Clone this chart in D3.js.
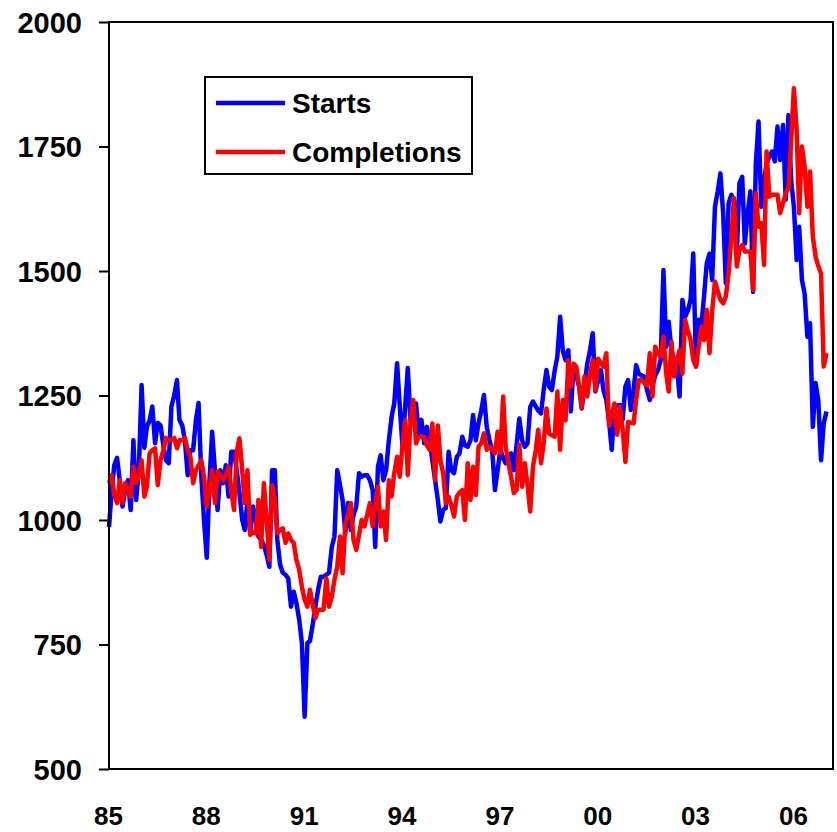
<!DOCTYPE html>
<html lang="en">
<head>
    <meta charset="UTF-8">
    <title>Starts vs Completions</title>
    <script src="https://d3js.org/d3.v7.min.js"></script>
    <style>
        body {
            margin: 0;
            background: white;
        }
        svg {
            display: block;
        }
        .tick-label {
            font-family: "Liberation Sans", Arial, sans-serif;
            font-weight: bold;
            fill: black;
        }
        .legend-label {
            font-family: "Liberation Sans", Arial, sans-serif;
            font-weight: bold;
            font-size: 28px;
        }
    </style>
</head>
<body>
    <script>
        // monthly, starting Jan 1985 (thousands, annual rate)
        const firstYear = 1985;

        const starts = [
            986, 1060, 1110, 1125, 1080, 1027, 1060, 1080, 1020, 1160, 1040, 1100,
            1271, 1145, 1187, 1200, 1228, 1154, 1195, 1190, 1150, 1120, 1114, 1228,
            1250, 1281, 1201, 1190, 1160, 1090, 1140, 1140, 1200, 1235, 1087, 1000,
            924, 1080, 1177, 1100, 1020, 1100, 1074, 1110, 1047, 1137, 1137, 1100,
            1054, 1000, 980, 1040, 974, 1027, 1000, 967, 960, 950, 930, 906,
            1100, 1100, 960, 910, 894, 890, 883, 826, 856, 833, 800, 753,
            605, 753, 757, 790, 826, 860, 886, 886, 890, 894, 946, 967,
            1100, 1070, 1040, 974, 1034, 980, 1010, 1027, 1094, 1087, 1090, 1090,
            1080, 1060, 946, 1107, 1130, 1080, 1100, 1160, 1207, 1235, 1315, 1230,
            1147, 1230, 1305, 1200, 1215, 1234, 1174, 1201, 1154, 1187, 1160, 1120,
            1080, 1040, 997, 1020, 1024, 1137, 1100, 1094, 1127, 1134, 1167, 1150,
            1147, 1160, 1211, 1160, 1194, 1220, 1251, 1187, 1160, 1141, 1060, 1100,
            1141, 1125, 1114, 1130, 1134, 1100, 1150, 1204, 1160, 1147, 1154, 1227,
            1238, 1228, 1220, 1214, 1261, 1301, 1268, 1261, 1300, 1328, 1408, 1340,
            1321, 1341, 1218, 1308, 1290, 1268, 1224, 1270, 1314, 1340, 1375, 1258,
            1280, 1301, 1260, 1241, 1201, 1141, 1228, 1230, 1231, 1201, 1268, 1281,
            1221, 1260, 1311, 1294, 1290, 1288, 1261, 1241, 1270, 1290, 1301, 1321,
            1502, 1348, 1398, 1341, 1320, 1308, 1248, 1442, 1408, 1420, 1442, 1535,
            1308, 1402, 1388, 1450, 1515, 1535, 1482, 1629, 1660, 1696, 1616, 1475,
            1636, 1653, 1643, 1535, 1676, 1689, 1555, 1616, 1660, 1458, 1716, 1800,
            1629, 1680, 1716, 1730, 1740, 1720, 1790, 1723, 1793, 1643, 1813, 1682,
            1629, 1522, 1589, 1482, 1455, 1368, 1395, 1187, 1275, 1241, 1120, 1194,
            1218
        ];

        const completions = [
            1074, 1090, 1050, 1034, 1080, 1034, 1074, 1060, 1047, 1107, 1074, 1090,
            1120, 1047, 1067, 1134, 1140, 1144, 1070, 1120, 1140, 1165, 1160, 1160,
            1165, 1144, 1160, 1160, 1165, 1140, 1127, 1074, 1100, 1110, 1120, 1087,
            1027, 1060, 1100, 1034, 1097, 1090, 1080, 1090, 1107, 1060, 1020, 1137,
            1164, 1100, 1034, 1100, 970, 975, 973, 1040, 946, 1074, 1000, 920,
            1070, 1040, 973, 980, 983, 954, 973, 960, 954, 920, 900, 866,
            840, 826, 860, 830, 803, 820, 820, 820, 883, 826, 846, 880,
            906, 967, 893, 993, 1010, 1034, 960, 940, 970, 1000, 987, 1010,
            1034, 987, 1030, 1067, 987, 1017, 960, 1080, 1047, 1094, 1127, 1087,
            1150, 1201, 1090, 1200, 1241, 1154, 1167, 1167, 1167, 1150, 1141, 1194,
            1080, 1190, 1120, 1094, 1034, 1047, 1030, 1007, 1047, 1055, 1060, 1000,
            1114, 1040, 1107, 1050, 1147, 1154, 1174, 1141, 1147, 1140, 1134, 1177,
            1134, 1248, 1147, 1114, 1087, 1054, 1060, 1151, 1067, 1114, 1070, 1017,
            1107, 1140, 1181, 1114, 1154, 1224, 1174, 1170, 1167, 1258, 1141, 1241,
            1200, 1321, 1268, 1314, 1308, 1270, 1227, 1288, 1248, 1290, 1321, 1261,
            1324, 1315, 1308, 1335, 1190, 1210, 1234, 1171, 1227, 1181, 1117, 1197,
            1195, 1194, 1241, 1281, 1281, 1275, 1270, 1335, 1248, 1348, 1335, 1328,
            1368, 1294, 1258, 1358, 1288, 1320, 1341, 1294, 1402, 1380, 1362, 1321,
            1308, 1350, 1388, 1361, 1422, 1335, 1420, 1479, 1460, 1442, 1435, 1449,
            1495, 1570, 1646, 1509, 1542, 1552, 1539, 1539, 1539, 1462, 1656, 1589,
            1596, 1512, 1740, 1649, 1653, 1653, 1653, 1616, 1636, 1656, 1666, 1760,
            1867, 1783, 1616, 1750, 1710, 1629, 1700, 1569, 1529, 1510, 1495, 1308,
            1335
        ];

        const yTicks = [500, 750, 1000, 1250, 1500, 1750, 2000];
        const xTickYears = [1985, 1988, 1991, 1994, 1997, 2000, 2003, 2006];
        const xTickLabels = ["85", "88", "91", "94", "97", "00", "03", "06"];
        const seriesNames = ["Starts", "Completions"];
        const seriesColors = ["#0000ff", "#ff0000"];

        const width = 837;
        const height = 832;
        const plot = {left: 109, top: 22, right: 833, bottom: 769};

        const svg = d3.select("body").append("svg")
            .attr("width", width)
            .attr("height", height);

        const x = d3.scaleTime()
            .domain([new Date(firstYear, 0, 1), new Date(2007, 2, 15)])
            .range([plot.left, plot.right]);

        const y = d3.scaleLinear()
            .domain([500, 2000])
            .range([plot.bottom, plot.top]);

        const monthDate = i => new Date(firstYear, i, 1);

        // y axis ticks + labels
        const yAxis = d3.axisLeft(y)
            .tickValues(yTicks)
            .tickSize(10)
            .tickPadding(17)
            .tickFormat(d3.format("d"));

        const yAxisG = svg.append("g")
            .attr("transform", `translate(${plot.left},0)`)
            .call(yAxis);
        yAxisG.select(".domain").remove();
        yAxisG.selectAll(".tick line").attr("stroke", "black").attr("stroke-width", 2);
        yAxisG.selectAll(".tick text")
            .attr("class", "tick-label")
            .style("font-size", "29px")
            .attr("dy", "0.36em");

        // x labels, no tick marks
        const xAxis = d3.axisBottom(x)
            .tickValues(xTickYears.map(yr => new Date(yr, 0, 1)))
            .tickSize(0)
            .tickPadding(38)
            .tickFormat((d, i) => xTickLabels[i]);

        const xAxisG = svg.append("g")
            .attr("transform", `translate(-1,${plot.bottom})`)
            .call(xAxis);
        xAxisG.select(".domain").remove();
        xAxisG.selectAll(".tick text")
            .attr("class", "tick-label")
            .style("font-size", "26px");

        // series lines, starts first so completions sit on top
        const line = d3.line()
            .x((d, i) => x(monthDate(i)))
            .y(d => y(d));

        [starts, completions].forEach((series, k) => {
            svg.append("path")
                .datum(series)
                .attr("fill", "none")
                .attr("stroke", seriesColors[k])
                .attr("stroke-width", 4.5)
                .attr("stroke-linejoin", "round")
                .attr("d", line);
        });

        // plot frame
        svg.append("rect")
            .attr("x", plot.left)
            .attr("y", plot.top)
            .attr("width", plot.right - plot.left)
            .attr("height", plot.bottom - plot.top)
            .attr("fill", "none")
            .attr("stroke", "black")
            .attr("stroke-width", 2);

        // legend
        const legend = svg.append("g").attr("transform", "translate(205,77)");
        legend.append("rect")
            .attr("width", 267)
            .attr("height", 97)
            .attr("fill", "white")
            .attr("stroke", "black")
            .attr("stroke-width", 2);

        seriesNames.forEach((name, k) => {
            const row = legend.append("g").attr("transform", `translate(0,${26 + k * 49})`);
            row.append("line")
                .attr("x1", 11).attr("x2", 80)
                .attr("stroke", seriesColors[k])
                .attr("stroke-width", 4.5);
            row.append("text")
                .attr("class", "legend-label")
                .attr("x", 87)
                .attr("dy", "0.36em")
                .text(name);
        });
    </script>
</body>
</html>
